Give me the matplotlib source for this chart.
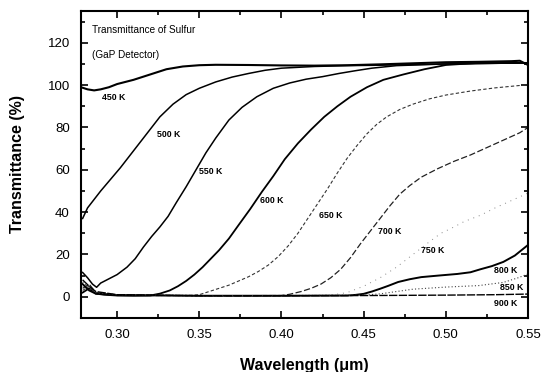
import numpy as np
import matplotlib
matplotlib.use("Agg")
import matplotlib.pyplot as plt
from matplotlib.ticker import MultipleLocator

plt.rcParams['font.family'] = ['Liberation Sans', 'DejaVu Sans']

# ---- data ----
wl_450 = [0.278, 0.282, 0.286, 0.290, 0.295, 0.300, 0.305, 0.310, 0.320, 0.330, 0.340, 0.350,
          0.360, 0.380, 0.400, 0.420, 0.440, 0.460, 0.480, 0.500, 0.520, 0.540, 0.545, 0.550]
t_450 = [99, 98, 97.5, 98, 99, 100.5, 101.5, 102.5, 105, 107.5, 108.8, 109.4,
         109.6, 109.5, 109.3, 109.2, 109.4, 109.8, 110.3, 110.8, 111, 111.3, 111.5, 109.5]

wl_500 = [0.279, 0.282, 0.286, 0.290, 0.296, 0.302, 0.310, 0.318, 0.326, 0.334, 0.342, 0.350,
          0.360, 0.370, 0.380, 0.390, 0.400, 0.420, 0.440, 0.460, 0.500, 0.550]
t_500 = [37, 42, 46, 50, 55.5, 61, 69, 77, 85, 91, 95.5, 98.5,
         101.5, 103.8, 105.5, 107, 108, 108.8, 109.2, 109.4, 110, 110.5]

wl_550 = [0.279, 0.282, 0.285, 0.2875, 0.290, 0.295, 0.300, 0.306, 0.311, 0.316, 0.321, 0.326,
          0.331, 0.336, 0.342, 0.348, 0.354, 0.360, 0.368, 0.376, 0.385, 0.395, 0.405, 0.415,
          0.425, 0.435, 0.445, 0.455, 0.470, 0.500, 0.550]
t_550 = [11.5, 9, 6, 4.5, 6.5, 8.5, 10.5, 14, 18, 23.5, 28.5, 33,
         38, 44.5, 52, 60, 68, 75, 83.5, 89.5, 94.5, 98.5, 101, 102.8,
         104, 105.5, 106.8, 108, 109.2, 110, 110.5]

wl_600 = [0.279, 0.283, 0.287, 0.292, 0.300, 0.310, 0.320, 0.326, 0.332, 0.337, 0.342, 0.347,
          0.352, 0.357, 0.362, 0.368, 0.374, 0.381, 0.388, 0.395, 0.402, 0.410, 0.418, 0.426,
          0.434, 0.442, 0.452, 0.462, 0.474, 0.487, 0.500, 0.520, 0.550]
t_600 = [2, 4, 1.5, 1, 0.6, 0.5, 0.6, 1.5, 3, 5, 7.5, 10.5,
         14, 18, 22, 27.5, 34, 41.5, 49.5, 57, 65, 72.5, 79, 85,
         90, 94.5, 99, 102.5, 105, 107.5, 109.5, 110.5, 110.5]

wl_650 = [0.279, 0.283, 0.287, 0.300, 0.320, 0.340, 0.345, 0.350, 0.356, 0.362, 0.368, 0.374,
          0.380, 0.386, 0.392, 0.398, 0.404, 0.410, 0.416, 0.422, 0.428, 0.434, 0.440, 0.446,
          0.452, 0.458, 0.464, 0.472, 0.480, 0.490, 0.500, 0.515, 0.530, 0.550]
t_650 = [3, 5, 1.5, 0.8, 0.6, 0.6, 0.7, 1, 2.5, 4, 5.5, 7.5,
         9.5, 12, 15, 19, 24, 30, 37, 44, 51, 58.5, 65.5, 71.5,
         77, 81.5, 85, 88.5, 91, 93.5, 95.3, 97.2, 98.7, 100.2]

wl_700 = [0.279, 0.283, 0.287, 0.300, 0.350, 0.400, 0.405, 0.412, 0.418, 0.424, 0.430, 0.436,
          0.442, 0.448, 0.454, 0.460, 0.466, 0.472, 0.478, 0.485, 0.495, 0.505, 0.515, 0.525,
          0.535, 0.545, 0.550]
t_700 = [4, 6, 2, 0.8, 0.5, 0.6, 1.2, 2.5, 4, 6, 9, 13,
         18.5, 25, 31, 37, 43, 48.5, 52.5, 56.5, 60.5, 64, 67, 70.5,
         74, 77.5, 80]

wl_750 = [0.279, 0.283, 0.287, 0.300, 0.350, 0.400, 0.430, 0.440, 0.450, 0.460, 0.470, 0.480,
          0.490, 0.497, 0.505, 0.511, 0.521, 0.530, 0.540, 0.550]
t_750 = [5, 3, 1.5, 0.8, 0.5, 0.5, 0.8, 2, 5, 9, 14, 20,
         26, 30, 33, 35.5, 38.5, 42, 45.5, 49]

wl_800 = [0.279, 0.283, 0.287, 0.300, 0.350, 0.400, 0.440, 0.445, 0.450, 0.455, 0.460, 0.465,
          0.471, 0.478, 0.485, 0.495, 0.507, 0.515, 0.521, 0.528, 0.535, 0.542, 0.550]
t_800 = [6, 3, 1.5, 0.8, 0.5, 0.5, 0.6, 0.9, 1.4, 2.5, 3.8, 5.2,
         7, 8.3, 9.3, 10, 10.8, 11.6, 13, 14.5, 16.5, 19.5, 24.5]

wl_850 = [0.279, 0.283, 0.287, 0.300, 0.350, 0.400, 0.450, 0.460, 0.480, 0.500, 0.520, 0.535,
          0.544, 0.550]
t_850 = [7, 4, 2, 1, 0.6, 0.6, 0.8, 1.4, 3.6, 4.6, 5.3, 6.8, 9, 10.8]

wl_900 = [0.279, 0.283, 0.287, 0.300, 0.350, 0.400, 0.450, 0.500, 0.530, 0.550]
t_900 = [8, 5, 2.5, 1, 0.5, 0.5, 0.6, 0.8, 1.0, 1.3]

temps = ["450 K", "500 K", "550 K", "600 K", "650 K", "700 K", "750 K", "800 K", "850 K", "900 K"]
label_x = [0.2905, 0.3244, 0.3500, 0.3872, 0.4226, 0.4585, 0.4848, 0.5293, 0.5330, 0.5293]
label_y = [94, 76.7, 59.3, 45.3, 38.6, 30.7, 22, 12.4, 4.2, -3.3]

series = [(wl_450, t_450), (wl_500, t_500), (wl_550, t_550), (wl_600, t_600),
          (wl_650, t_650), (wl_700, t_700), (wl_750, t_750), (wl_800, t_800),
          (wl_850, t_850), (wl_900, t_900)]

styles = [
    dict(color='black', lw=1.5, ls='-'),
    dict(color='black', lw=1.1, ls='-'),
    dict(color='black', lw=1.1, ls='-'),
    dict(color='black', lw=1.3, ls='-'),
    dict(color='#333333', lw=0.8, ls=(0, (3, 2))),
    dict(color='#222222', lw=0.9, ls=(0, (5, 2))),
    dict(color='#888888', lw=0.7, ls=(0, (1, 5))),
    dict(color='black', lw=1.4, ls='-'),
    dict(color='#444444', lw=0.8, ls=(0, (1, 2))),
    dict(color='black', lw=1.0, ls=(0, (6, 1))),
]

fig = plt.figure(figsize=(5.42, 3.72), dpi=100)
ax = fig.add_axes([0.1494, 0.1452, 0.8248, 0.8252])

for (x, y), st in zip(series, styles):
    ax.plot(x, y, **st)

for t, lx, ly in zip(temps, label_x, label_y):
    ax.text(lx, ly, t, fontsize=6.3, fontweight='bold', ha='left', va='center')

ax.text(0.2848, 126, "Transmittance of Sulfur", fontsize=7.2, ha='left', va='center')
ax.text(0.2848, 114, "(GaP Detector)", fontsize=7.2, ha='left', va='center')

ax.set_xlim(0.278, 0.55)
ax.set_ylim(-10, 135)
ax.xaxis.set_major_locator(MultipleLocator(0.05))
ax.xaxis.set_minor_locator(MultipleLocator(0.025))
ax.yaxis.set_major_locator(MultipleLocator(20))
ax.yaxis.set_minor_locator(MultipleLocator(10))
ax.set_xticks([0.30, 0.35, 0.40, 0.45, 0.50, 0.55])
ax.set_xticklabels(["0.30", "0.35", "0.40", "0.45", "0.50", "0.55"])
ax.set_yticks([0, 20, 40, 60, 80, 100, 120])

ax.tick_params(which='both', direction='in', top=True, right=True, width=1.2)
ax.tick_params(which='major', length=5, labelsize=9.5, pad=8)
ax.tick_params(which='minor', length=3)
for s in ax.spines.values():
    s.set_linewidth(1.5)

ax.set_xlabel("Wavelength (\u03bcm)", fontsize=11.5, fontweight='bold', labelpad=12)
ax.set_ylabel("Transmittance (%)", fontsize=11.5, fontweight='bold', labelpad=16)

fig.savefig("out.png", dpi=100)
